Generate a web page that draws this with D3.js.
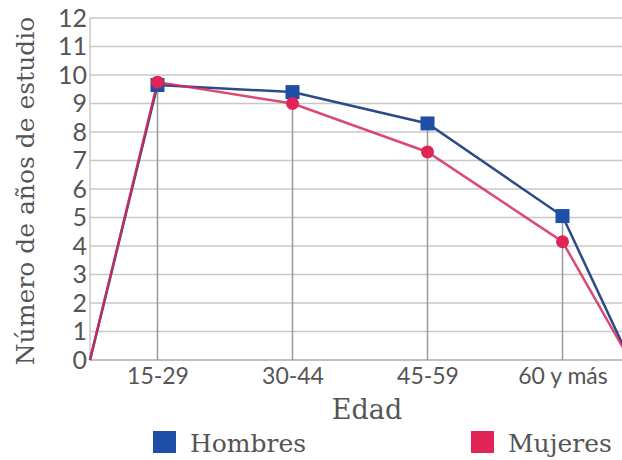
<!DOCTYPE html>
<html>
<head>
<meta charset="utf-8">
<script src="https://cdn.jsdelivr.net/npm/d3@7"></script>
<style>
  body { margin: 0; background: #fff; }
  svg text { fill: #555; }
  .tick text { font-family: Lato, "Open Sans", sans-serif; }
  .serif { font-family: "DejaVu Serif", serif; }
</style>
</head>
<body>
<div id="chart"></div>
<script>
// data
var categories = ["15-29", "30-44", "45-59", "60 y más"];
var hombres    = [9.65, 9.4, 8.3, 5.05];
var mujeres    = [9.75, 9.0, 7.3, 4.15];
var yTicks     = [0, 1, 2, 3, 4, 5, 6, 7, 8, 9, 10, 11, 12];
var seriesNames = ["Hombres", "Mujeres"];

var width = 622, height = 460;
var margin = {top: 18, left: 90, bottom: 100};

var svg = d3.select("#chart").append("svg")
  .attr("width", width)
  .attr("height", height);

// categories sit at 1..4, the line starts at 0.5 and ends at 4.5 (at zero)
var x = d3.scaleLinear()
  .domain([0.5, 4.5])
  .range([margin.left, margin.left + 4 * 135]);

var y = d3.scaleLinear()
  .domain([0, 12])
  .range([height - margin.bottom, margin.top]);

function withEnds(vals) {
  var pts = [{x: 0.5, v: 0}];
  vals.forEach(function(v, i) { pts.push({x: i + 1, v: v}); });
  pts.push({x: 4.5, v: 0});
  return pts;
}

// horizontal grid
svg.append("g").selectAll("line")
  .data(yTicks)
  .enter().append("line")
  .attr("x1", margin.left).attr("x2", width)
  .attr("y1", function(d) { return y(d); })
  .attr("y2", function(d) { return y(d); })
  .attr("stroke", function(d) { return d === 0 ? "#aaa" : "#c8c8c8"; })
  .attr("stroke-width", 1.5);

// left border
svg.append("line")
  .attr("x1", margin.left).attr("x2", margin.left)
  .attr("y1", y(12)).attr("y2", y(0))
  .attr("stroke", "#c8c8c8").attr("stroke-width", 1.5);

// drop lines
svg.append("g").selectAll("line")
  .data(categories)
  .enter().append("line")
  .attr("x1", function(d, i) { return x(i + 1); })
  .attr("x2", function(d, i) { return x(i + 1); })
  .attr("y1", y(0))
  .attr("y2", function(d, i) { return y(Math.max(hombres[i], mujeres[i])); })
  .attr("stroke", "#999").attr("stroke-width", 1.5);

// y axis
var yAxis = d3.axisLeft(y).tickValues(yTicks).tickSize(0).tickPadding(3);
svg.append("g")
  .attr("transform", "translate(" + margin.left + ",0)")
  .call(yAxis)
  .call(function(g) { g.select(".domain").remove(); })
  .selectAll("text").attr("font-size", 25).attr("fill", "#555");

// x axis
var xAxis = d3.axisBottom(x).tickValues([1, 2, 3, 4])
  .tickFormat(function(d) { return categories[d - 1]; })
  .tickSize(0).tickPadding(8);
svg.append("g")
  .attr("transform", "translate(0," + y(0) + ")")
  .call(xAxis)
  .call(function(g) { g.select(".domain").remove(); })
  .selectAll("text").attr("font-size", 23).attr("fill", "#555");

var line = d3.line()
  .x(function(d) { return x(d.x); })
  .y(function(d) { return y(d.v); });

var colors = {Hombres: "#1f4ea6", Mujeres: "#e02456"};
var lineColors = {Hombres: "#2c4a88", Mujeres: "#d42a5a"};

svg.append("path")
  .datum(withEnds(hombres))
  .attr("d", line)
  .attr("fill", "none")
  .attr("stroke", lineColors.Hombres)
  .attr("stroke-width", 2.5);

svg.append("path")
  .datum(withEnds(mujeres))
  .attr("d", line)
  .attr("fill", "none")
  .attr("stroke", lineColors.Mujeres)
  .attr("stroke-width", 2.5)
  .attr("stroke-opacity", 0.85);

svg.append("g").selectAll("rect")
  .data(hombres)
  .enter().append("rect")
  .attr("x", function(d, i) { return x(i + 1) - 7; })
  .attr("y", function(d) { return y(d) - 7; })
  .attr("width", 14).attr("height", 14)
  .attr("fill", colors.Hombres);

svg.append("g").selectAll("circle")
  .data(mujeres)
  .enter().append("circle")
  .attr("cx", function(d, i) { return x(i + 1); })
  .attr("cy", function(d) { return y(d); })
  .attr("r", 6.5)
  .attr("fill", colors.Mujeres);

// axis titles
svg.append("text")
  .attr("class", "serif")
  .attr("transform", "translate(34," + (y(6) + 2) + ") rotate(-90)")
  .attr("text-anchor", "middle")
  .attr("font-size", 25)
  .attr("fill", "#555")
  .text("Número de años de estudio");

svg.append("text")
  .attr("class", "serif")
  .attr("x", 367).attr("y", 419)
  .attr("text-anchor", "middle")
  .attr("font-size", 27)
  .attr("fill", "#555")
  .text("Edad");

// legend
var legendX = [153, 471];
var leg = svg.append("g").selectAll("g")
  .data(seriesNames)
  .enter().append("g")
  .attr("transform", function(d, i) { return "translate(" + legendX[i] + ",431)"; });

leg.append("rect")
  .attr("width", 23).attr("height", 22)
  .attr("fill", function(d) { return colors[d]; });

leg.append("text")
  .attr("class", "serif")
  .attr("x", 37).attr("y", 21)
  .attr("font-size", 25)
  .attr("fill", "#555")
  .text(function(d) { return d; });
</script>
</body>
</html>
